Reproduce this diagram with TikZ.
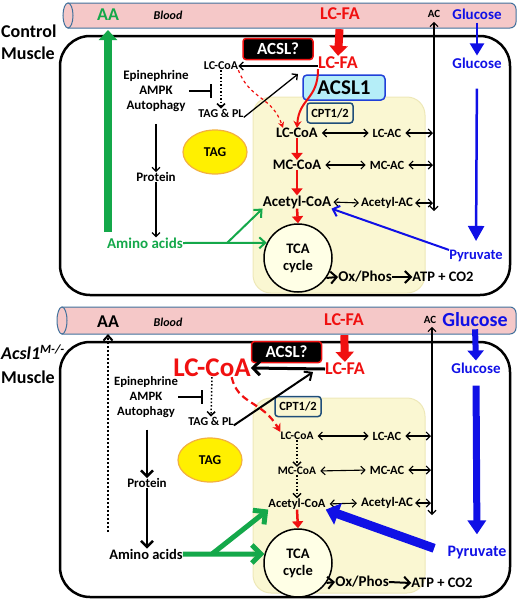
\documentclass[tikz,border=0pt]{standalone}
\usepackage{fontspec}
\setmainfont{Carlito}
\usetikzlibrary{arrows.meta,shapes.geometric}
\definecolor{aagreen}{HTML}{14A84A}
\definecolor{fared}{HTML}{F01010}
\definecolor{glublue}{HTML}{1010E6}
\definecolor{bloodpink}{HTML}{F5C8C8}
\definecolor{tubeedge}{HTML}{41719C}
\definecolor{mitofill}{HTML}{FAF7D2}
\definecolor{mitoedge}{HTML}{EEE8B8}
\definecolor{acslcyan}{HTML}{B5EEF8}
\definecolor{acslblue}{HTML}{2040D8}
\definecolor{cptedge}{HTML}{1F4E79}
\definecolor{tagyellow}{HTML}{FFF000}
\definecolor{tagorange}{HTML}{F2B040}
\definecolor{tcafill}{HTML}{FFFFE6}
\newcommand{\fsz}[1]{\fontsize{#1}{#1}\selectfont\bfseries}

\begin{document}
\begin{tikzpicture}[x=1pt,y=-1pt,
		every node/.style={inner sep=0pt},
		blk/.style={-{Straight Barb[length=4pt,width=8pt]},line width=1.3pt},
		bigblk/.style={-{Straight Barb[length=6pt,width=12pt]},line width=2.5pt},
		dbl/.style={{Straight Barb[length=4pt,width=8pt]}-{Straight Barb[length=4pt,width=8pt]},line width=1.1pt,shorten <=4pt,shorten >=4pt},
		dblwall/.style={{Straight Barb[length=4pt,width=8pt]}-{Straight Barb[length=4pt,width=8pt]},line width=1.1pt,shorten <=4pt,shorten >=1pt},
		dotarr/.style={dotted,line width=1.5pt,-{Straight Barb[length=4pt,width=8pt]}},
		redarr/.style={draw=fared,line width=2.5pt,-{Triangle[length=7pt,width=11pt]}},
		blockarr/.style={line width=8pt,-{Triangle[length=10pt,width=18pt]}},
		inh/.style={line width=2.5pt,-{Bar[width=14pt,line width=2.5pt]}},
		tube/.style={draw=tubeedge,fill=bloodpink,line width=1pt},
		cell/.style={draw=black,line width=2.5pt,rounded corners=30pt},
		mito/.style={fill=mitofill,draw=mitoedge,line width=1pt,rounded corners=18pt},
		acslq/.style={fill=black,draw=fared,line width=1.5pt,rounded corners=3pt,text=white,font=\fsz{17},minimum width=70pt,minimum height=21pt},
		acslone/.style={fill=acslcyan,draw=acslblue,line width=1.5pt,rounded corners=4pt,font=\fsz{21},minimum width=82pt,minimum height=25pt},
		cpt/.style={draw=cptedge,line width=1.5pt,rounded corners=3pt,font=\fsz{12.5},minimum width=46pt,minimum height=20pt},
		tag/.style={ellipse,draw=tagorange,fill=tagyellow,line width=1.2pt,minimum width=64pt,minimum height=44pt,font=\fsz{13.5}},
		tca/.style={circle,draw,fill=tcafill,line width=1.5pt,minimum size=68pt,align=center,font=\fontsize{14.5}{17}\selectfont\bfseries}]
	\useasboundingbox (0,0) rectangle (520,606);

	\draw[tube] (68,3) -- (510,3) arc[start angle=90,end angle=0,radius=6pt] -- (516,22) arc[start angle=0,end angle=-90,radius=6pt] -- (68,28) -- cycle;
	\draw[tube] (68,15.5) ellipse[x radius=5pt,y radius=12.5pt];
	\draw[cell] (60,36) rectangle (510,295);
	\draw[mito] (253,97) rectangle (425,293);

	\node[font=\fontsize{18}{22}\selectfont\bfseries,align=left,anchor=west] (cLabel) at (1,42) {Control\\Muscle};
	\node[font=\fsz{18},text=aagreen] (cAA) at (108,15) {AA};
	\node[font=\fsz{12}\itshape] (cBlood) at (168,15) {Blood};
	\node[font=\fsz{18},text=fared] (cLCFA0) at (340,14) {LC-FA};
	\node[font=\fsz{11}] (cAC) at (434,14) {AC};
	\node[font=\fsz{15},text=glublue] (cGlu0) at (477,14) {Glucose};
	\node[font=\fsz{15},text=glublue] (cGlu1) at (477,63) {Glucose};
	\node[acslq] (cACSL) at (278,49) {ACSL?};
	\node[font=\fsz{18},text=fared] (cLCFA1) at (338,63) {LC-FA};
	\node[font=\fsz{12}] (cLCCoA0) at (221,66) {LC-CoA};
	\node[font=\fsz{12}] (cTAGPL) at (221,113) {TAG \& PL};
	\node[font=\fontsize{13}{15}\selectfont\bfseries,align=center] (cEpi) at (156,91) {Epinephrine\\AMPK\\Autophagy};
	\node[tag] (cTAG) at (215,152) {TAG};
	\node[font=\fsz{13}] (cProt) at (156,177) {Protein};
	\node[font=\fsz{15},text=aagreen] (cAmino) at (145,243) {Amino acids};
	\node[acslone] (cACSL1) at (344,87.5) {ACSL1};
	\node[cpt] (cCPT) at (330,113) {CPT1/2};
	\node[font=\fsz{14.5}] (cLCCoA) at (297,133) {LC-CoA};
	\node[font=\fsz{12.5}] (cLCAC) at (387,133) {LC-AC};
	\node[font=\fsz{14.5}] (cMCCoA) at (297,165) {MC-CoA};
	\node[font=\fsz{12.5}] (cMCAC) at (387,165) {MC-AC};
	\node[font=\fsz{15}] (cAcCoA) at (297,202) {Acetyl-CoA};
	\node[font=\fsz{13}] (cAcAC) at (387,203) {Acetyl-AC};
	\node[tca] (cTCA) at (298,258) {TCA\\cycle};
	\node[font=\fsz{15}] (cOx) at (365,277) {Ox/Phos};
	\node[font=\fsz{14.5}] (cATP) at (443,277) {ATP + CO2};
	\node[font=\fsz{14.5},text=glublue] (cPyr) at (476,256) {Pyruvate};
	\coordinate (cAAin) at (108,232);
	\coordinate (cACbot) at (434,211);
	\coordinate (cBar) at (212,91);
	\coordinate (cFAin) at (298,74);
	\coordinate (cFork) at (227,243);

	\draw[blockarr,draw=aagreen,shorten >=9pt] (cAAin) -- (cAA.south);
	\draw[blockarr,draw=fared,shorten <=9pt,shorten >=1pt] (cLCFA0.south) -- (cLCFA1.north);
	\draw[line width=2pt,draw=glublue,-{Triangle[length=12pt,width=14pt]},shorten <=3pt,shorten >=2pt] (cGlu0.south) -- (cGlu1.north);
	\draw[line width=2.5pt,draw=glublue,-{Triangle[length=15pt,width=16pt]},shorten <=20pt,shorten >=9pt] (cGlu1.south) -- (cPyr.north);
	\draw[dblwall,shorten <=0pt,shorten >=4pt] (cACbot) -- (cACbot |- cAC.south);
	\draw[blk] (cLCFA1.west |- cLCCoA0) -- (cLCCoA0.east);
	\draw[dotarr] (cLCCoA0.south) -- (cTAGPL.north);
	\draw[inh] (cEpi.east) -- (cBar);
	\draw[blk] (cTAGPL.south east) -- (cFAin);
	\draw[draw=fared,dashed,line width=1.2pt,-{Stealth[length=6pt,width=6pt]}] (cLCCoA0.south east) .. controls (250,100) and (272,96) .. ([xshift=7pt]cLCCoA.north west);
	\draw[draw=fared,line width=2pt,-{Stealth[length=7pt,width=8pt]}] (cLCFA1.south west) .. controls (318,100) and (299,98) .. (cLCCoA.north);
	\draw[blk,shorten <=12pt] (cEpi.south -| cProt) -- (cProt.north);
	\draw[blk] (cProt.south) -- (cProt.south |- cAmino.north);
	\draw[dbl] (cLCCoA.east) -- (cLCAC.west);
	\draw[dblwall] (cLCAC.east) -- (cLCAC.east -| cACbot);
	\draw[dbl] (cMCCoA.east) -- (cMCAC.west);
	\draw[dblwall] (cMCAC.east) -- (cMCAC.east -| cACbot);
	\draw[dbl,shorten <=2pt,shorten >=2pt] (cAcCoA.east) -- (cAcAC.west);
	\draw[dblwall,shorten <=2pt] (cAcAC.east) -- (cAcAC.east -| cACbot);
	\draw[redarr] (cLCCoA.south) -- (cMCCoA.north);
	\draw[redarr] (cMCCoA.south) -- (cAcCoA.north);
	\draw[redarr] (cAcCoA.south) -- (cTCA.north);
	\draw[draw=glublue,line width=2pt,-{Straight Barb[length=6pt,width=11pt]}] (cPyr.north west) -- (cAcCoA.south east);
	\draw[draw=aagreen,line width=2pt,-{Straight Barb[length=6pt,width=11pt]}] (cAmino.east) -- (cTCA.154);
	\draw[draw=aagreen,line width=2pt,-{Straight Barb[length=6pt,width=11pt]}] (cFork) -- (cAcCoA.south west);
	\draw[bigblk,line width=2pt] (cTCA.-35) -- (cOx.west);
	\draw[bigblk,line width=2pt] (cOx.east) -- (cATP.west);

	\draw[tube] (62,307) -- (510,307) arc[start angle=90,end angle=0,radius=6pt] -- (516,328) arc[start angle=0,end angle=-90,radius=6pt] -- (62,334) -- cycle;
	\draw[tube] (62,320.5) ellipse[x radius=5pt,y radius=13.5pt];
	\draw[cell] (60,342) rectangle (510,597);
	\draw[mito] (253,398) rectangle (425,593);

	\node[font=\fontsize{18}{24}\selectfont\bfseries,align=left,anchor=west] (kLabel) at (1,364) {\textit{Acsl1}\textsuperscript{\textit{M-/-}}\\Muscle};
	\node[font=\fsz{18}] (kAA) at (108,322) {AA};
	\node[font=\fsz{12}\itshape] (kBlood) at (168,322) {Blood};
	\node[font=\fsz{18},text=fared] (kLCFA0) at (344,320) {LC-FA};
	\node[font=\fsz{11}] (kAC) at (430,320) {AC};
	\node[font=\fsz{20},text=glublue] (kGlu0) at (475,320) {Glucose};
	\node[font=\fsz{15},text=glublue] (kGlu1) at (476,368) {Glucose};
	\node[acslq] (kACSL) at (286.5,352) {ACSL?};
	\node[font=\fsz{18},text=fared] (kLCFA1) at (345,369) {LC-FA};
	\node[font=\fsz{27},text=fared] (kLCCoA0) at (212,368) {LC-CoA};
	\node[font=\fontsize{12.7}{15}\selectfont\bfseries,align=center] (kEpi) at (146,397) {Epinephrine\\AMPK\\Autophagy};
	\node[font=\fsz{12}] (kTAGPL) at (211,421) {TAG \& PL};
	\node[tag] (kTAG) at (210,460) {TAG};
	\node[font=\fsz{13}] (kProt) at (147,483) {Protein};
	\node[font=\fsz{14.5}] (kAmino) at (146,554) {Amino acids};
	\node[cpt] (kCPT) at (298,406.5) {CPT1/2};
	\node[font=\fsz{11.5}] (kLCCoA) at (297,436) {LC-CoA};
	\node[font=\fsz{12.5}] (kLCAC) at (387,436) {LC-AC};
	\node[font=\fsz{11.5}] (kMCCoA) at (297,471) {MC-CoA};
	\node[font=\fsz{12.5}] (kMCAC) at (387,470) {MC-AC};
	\node[font=\fsz{12.5}] (kAcCoA) at (297,504) {Acetyl-CoA};
	\node[font=\fsz{13}] (kAcAC) at (387,503) {Acetyl-AC};
	\node[tca] (kTCA) at (298,563) {TCA\\cycle};
	\node[font=\fsz{15}] (kOx) at (362,582) {Ox/Phos};
	\node[font=\fsz{14.5}] (kATP) at (442,583) {ATP + CO2};
	\node[font=\fsz{16},text=glublue] (kPyr) at (477,553) {Pyruvate};
	\coordinate (kAAin) at (108,532);
	\coordinate (kACbot) at (432,515);
	\coordinate (kBar) at (203,397);
	\coordinate (kFAin) at (313,372);
	\coordinate (kFork) at (212,554);

	\draw[dotted,line width=2pt,-{Straight Barb[length=5pt,width=9pt]},shorten >=6pt] (kAAin) -- (kAA.south);
	\draw[blockarr,draw=fared,shorten <=9pt,shorten >=1pt] (kLCFA0.south) -- (kLCFA1.north);
	\draw[line width=6pt,draw=glublue,-{Triangle[length=10pt,width=16pt]},shorten <=2pt,shorten >=2pt] (kGlu0.south) -- (kGlu1.north);
	\draw[line width=7pt,draw=glublue,-{Triangle[length=14pt,width=18pt]},shorten <=12pt,shorten >=12pt] (kGlu1.south) -- (kPyr.north);
	\draw[dblwall,shorten <=0pt,shorten >=3pt] (kACbot) -- (kACbot |- kAC.south);
	\draw[line width=3pt,-{Straight Barb[length=7pt,width=14pt]}] (kLCFA1.west) -- (kLCCoA0.east);
	\draw[dotarr] (kLCCoA0.south) -- (kTAGPL.north);
	\draw[inh] (kEpi.east) -- (kBar);
	\draw[line width=2pt,-{Straight Barb[length=6pt,width=11pt]}] (kTAGPL.south east) -- (kFAin);
	\draw[draw=fared,dash pattern=on 7pt off 4pt,line width=2.2pt,-{Stealth[length=8pt,width=9pt]}] (kLCCoA0.-25) .. controls (238,405) and (262,400) .. (kLCCoA.north west);
	\draw[bigblk,shorten <=12pt] (kEpi.south -| kProt) -- (kProt.north);
	\draw[bigblk] (kProt.south) -- (kProt.south |- kAmino.north);
	\draw[dbl] (kLCCoA.east) -- (kLCAC.west);
	\draw[dblwall] (kLCAC.east) -- (kLCAC.east -| kACbot);
	\draw[dbl] (kMCCoA.east) -- (kMCAC.west);
	\draw[dblwall] (kMCAC.east) -- (kMCAC.east -| kACbot);
	\draw[dbl] (kAcCoA.east) -- (kAcAC.west);
	\draw[dblwall,shorten <=2pt] (kAcAC.east) -- (kAcAC.east -| kACbot);
	\draw[dotarr] (kLCCoA.south) -- (kMCCoA.north);
	\draw[dotarr] (kMCCoA.south) -- (kAcCoA.north);
	\draw[redarr] (kAcCoA.south) -- (kTCA.north);
	\draw[draw=glublue,line width=9pt,-{Triangle[length=13pt,width=22pt]},shorten <=14pt] (kPyr.west) -- (kAcCoA.south east);
	\draw[draw=aagreen,line width=5pt,-{Straight Barb[length=9pt,width=18pt]}] (kAmino.east) -- (kTCA.165);
	\draw[draw=aagreen,line width=5pt,-{Straight Barb[length=9pt,width=18pt]}] (kFork) -- (kAcCoA.south west);
	\draw[bigblk,line width=2pt] (kTCA.-35) -- (kOx.west);
	\draw[bigblk,line width=2pt] (kOx.east) -- (kATP.west);
\end{tikzpicture}
\end{document}
